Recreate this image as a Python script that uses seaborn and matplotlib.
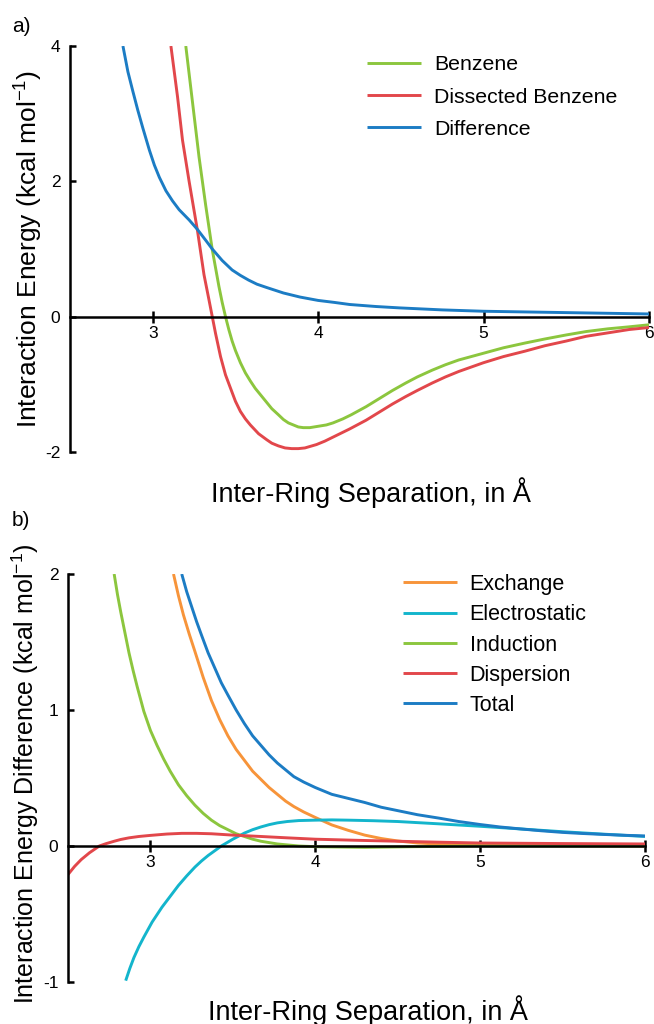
import matplotlib
matplotlib.use("Agg")
import matplotlib.pyplot as plt
import seaborn as sns

# Panel a) - interaction energies
benz_x = [3.20, 3.24, 3.28, 3.32, 3.36, 3.40, 3.42, 3.44, 3.46, 3.48, 3.50, 3.53, 3.56, 3.59, 3.62,
          3.65, 3.69, 3.72, 3.76, 3.79, 3.82, 3.85, 3.88, 3.91, 3.95, 4.00, 4.05, 4.09, 4.15, 4.20,
          4.29, 4.37, 4.45, 4.53, 4.60, 4.69, 4.77, 4.85, 5.00, 5.12, 5.25, 5.37, 5.50, 5.62, 5.75,
          5.88, 6.00]
benz_y = [4.00, 3.18, 2.36, 1.65, 0.99, 0.45, 0.21, 0.00, -0.19, -0.36, -0.50, -0.68, -0.83, -0.95, -1.06,
          -1.15, -1.27, -1.36, -1.45, -1.52, -1.57, -1.60, -1.63, -1.64, -1.64, -1.62, -1.60, -1.57, -1.51, -1.45,
          -1.33, -1.21, -1.09, -0.98, -0.89, -0.79, -0.71, -0.64, -0.54, -0.46, -0.39, -0.33, -0.27, -0.22, -0.18,
          -0.15, -0.12]

diss_x = [3.11, 3.15, 3.18, 3.22, 3.27, 3.31, 3.34, 3.36, 3.38, 3.41, 3.44, 3.48, 3.50, 3.53, 3.56,
          3.59, 3.64, 3.69, 3.72, 3.76, 3.80, 3.84, 3.88, 3.92, 3.99, 4.04, 4.09, 4.14, 4.19, 4.29,
          4.37, 4.45, 4.53, 4.60, 4.69, 4.77, 4.85, 5.00, 5.12, 5.25, 5.37, 5.50, 5.62, 5.75, 5.88,
          6.00]
diss_y = [4.00, 3.25, 2.61, 2.00, 1.28, 0.62, 0.25, 0.00, -0.25, -0.59, -0.86, -1.12, -1.25, -1.40, -1.51,
          -1.60, -1.73, -1.82, -1.87, -1.91, -1.94, -1.95, -1.95, -1.94, -1.89, -1.84, -1.78, -1.72, -1.66, -1.53,
          -1.41, -1.29, -1.18, -1.09, -0.98, -0.89, -0.81, -0.68, -0.59, -0.51, -0.43, -0.36, -0.29, -0.24, -0.19,
          -0.16]

diff_x = [2.82, 2.85, 2.88, 2.91, 2.94, 2.98, 3.01, 3.04, 3.08, 3.12, 3.16, 3.22, 3.27, 3.32, 3.36,
          3.42, 3.48, 3.53, 3.58, 3.63, 3.69, 3.79, 3.89, 4.00, 4.10, 4.19, 4.35, 4.49, 4.75, 5.00,
          5.25, 5.50, 5.75, 6.00]
diff_y = [4.00, 3.62, 3.33, 3.05, 2.79, 2.46, 2.24, 2.06, 1.86, 1.71, 1.58, 1.43, 1.29, 1.13, 1.00,
          0.83, 0.69, 0.61, 0.54, 0.48, 0.43, 0.35, 0.29, 0.24, 0.21, 0.18, 0.15, 0.13, 0.10, 0.08,
          0.07, 0.06, 0.05, 0.04]

# Panel b) - decomposition of the difference
exch_x = [3.14, 3.17, 3.20, 3.235, 3.27, 3.32, 3.37, 3.42, 3.47, 3.52, 3.57, 3.62, 3.67, 3.72, 3.77,
          3.82, 3.87, 3.93, 4.00, 4.10, 4.20, 4.30, 4.40, 4.50, 4.62, 4.80, 5.00, 5.50, 6.00]
exch_y = [2.00, 1.84, 1.70, 1.56, 1.43, 1.24, 1.07, 0.93, 0.81, 0.71, 0.63, 0.55, 0.49, 0.43, 0.38,
          0.33, 0.29, 0.25, 0.21, 0.155, 0.115, 0.08, 0.055, 0.037, 0.022, 0.011, 0.005, 0.002, 0.0]

elec_x = [2.85, 2.875, 2.90, 2.93, 2.96, 3.01, 3.07, 3.12, 3.17, 3.22, 3.27, 3.31, 3.35, 3.39, 3.43,
          3.50, 3.57, 3.62, 3.67, 3.72, 3.77, 3.83, 3.90, 4.00, 4.10, 4.20, 4.35, 4.50, 4.75, 5.00,
          5.25, 5.50, 5.75, 6.00]
elec_y = [-0.99, -0.90, -0.82, -0.74, -0.67, -0.56, -0.45, -0.37, -0.29, -0.22, -0.155, -0.11, -0.07, -0.035, 0.0,
          0.05, 0.095, 0.12, 0.14, 0.157, 0.17, 0.18, 0.187, 0.19, 0.192, 0.19, 0.186, 0.18, 0.163, 0.145,
          0.125, 0.105, 0.087, 0.07]

ind_x = [2.78, 2.80, 2.82, 2.845, 2.87, 2.895, 2.92, 2.96, 3.00, 3.04, 3.08, 3.12, 3.17, 3.22, 3.27,
         3.32, 3.37, 3.42, 3.47, 3.52, 3.57, 3.62, 3.67, 3.77, 3.90, 4.00, 4.30, 4.60, 5.00, 6.00]
ind_y = [2.00, 1.85, 1.72, 1.57, 1.42, 1.29, 1.17, 0.99, 0.85, 0.74, 0.64, 0.55, 0.45, 0.37, 0.30,
         0.24, 0.19, 0.15, 0.12, 0.09, 0.07, 0.05, 0.035, 0.015, 0.0, -0.005, -0.01, -0.005, 0.0, 0.0]

disp_x = [2.50, 2.52, 2.54, 2.56, 2.58, 2.605, 2.63, 2.66, 2.69, 2.73, 2.78, 2.82, 2.87, 2.93, 3.00,
          3.10, 3.19, 3.28, 3.37, 3.50, 3.67, 3.83, 4.00, 4.25, 4.50, 4.75, 5.00, 5.50, 6.00]
disp_y = [-0.21, -0.18, -0.15, -0.125, -0.10, -0.075, -0.05, -0.025, 0.0, 0.017, 0.035, 0.048, 0.06, 0.07, 0.078,
          0.088, 0.093, 0.093, 0.09, 0.08, 0.07, 0.06, 0.05, 0.042, 0.035, 0.028, 0.022, 0.018, 0.015]

tot_x = [3.19, 3.22, 3.25, 3.28, 3.31, 3.35, 3.39, 3.43, 3.47, 3.52, 3.57, 3.62, 3.67, 3.72, 3.77,
         3.82, 3.87, 3.93, 4.00, 4.10, 4.20, 4.30, 4.40, 4.50, 4.62, 4.75, 4.87, 5.00, 5.12, 5.25,
         5.37, 5.50, 5.62, 5.75, 5.87, 6.00]
tot_y = [2.00, 1.87, 1.76, 1.65, 1.55, 1.42, 1.31, 1.20, 1.11, 1.00, 0.90, 0.81, 0.74, 0.67, 0.61,
         0.56, 0.51, 0.47, 0.43, 0.38, 0.35, 0.32, 0.285, 0.26, 0.23, 0.205, 0.18, 0.158, 0.14, 0.125,
         0.112, 0.10, 0.092, 0.085, 0.079, 0.074]

green = "#8cc63e"
red = "#e2474b"
blue = "#1c7cc4"
orange = "#f7943a"
cyan = "#13b5cc"

sns.set_style("ticks")
plt.rcParams["font.family"] = ["Liberation Sans", "DejaVu Sans"]
plt.rcParams["mathtext.fontset"] = "custom"
plt.rcParams["mathtext.rm"] = "Liberation Sans"
for key in ("text.color", "axes.labelcolor", "xtick.color", "ytick.color"):
    plt.rcParams[key] = "black"

fig = plt.figure(figsize=(6.54, 10.24), dpi=100)
ax1 = fig.add_axes([70 / 654, 1 - 452 / 1024, 579 / 654, 406 / 1024])
ax2 = fig.add_axes([68 / 654, 1 - 982 / 1024, 577 / 654, 408 / 1024])

lw = 2.1
kw = dict(lw=lw, sort=False, solid_joinstyle="round", solid_capstyle="butt")
sns.lineplot(x=benz_x, y=benz_y, ax=ax1, color=green, label="Benzene", **kw)
sns.lineplot(x=diss_x, y=diss_y, ax=ax1, color=red, label="Dissected Benzene", **kw)
sns.lineplot(x=diff_x, y=diff_y, ax=ax1, color=blue, label="Difference", **kw)

sns.lineplot(x=exch_x, y=exch_y, ax=ax2, color=orange, label="Exchange", **kw)
sns.lineplot(x=elec_x, y=elec_y, ax=ax2, color=cyan, label="Electrostatic", **kw)
sns.lineplot(x=ind_x, y=ind_y, ax=ax2, color=green, label="Induction", **kw)
sns.lineplot(x=disp_x, y=disp_y, ax=ax2, color=red, label="Dispersion", **kw)
sns.lineplot(x=tot_x, y=tot_y, ax=ax2, color=blue, label="Total", **kw)

for ax, ylim, yticks in [(ax1, (-2, 4), [-2, 0, 2, 4]), (ax2, (-1, 2), [-1, 0, 1, 2])]:
    ax.set_xlim(2.5, 6)
    ax.set_ylim(*ylim)
    ax.set_xticks([3, 4, 5, 6])
    ax.set_yticks(yticks)
    ax.set_xticklabels(["3", "4", "5", "6"])
    ax.set_yticklabels([str(t) for t in yticks])
    sns.despine(ax=ax)
    ax.spines["bottom"].set_position(("data", 0))
    for s in ("bottom", "left"):
        ax.spines[s].set_linewidth(1.8)
        ax.spines[s].set_color("black")
    ax.tick_params(axis="x", direction="inout", length=9, width=1.8, labelsize=12.5, pad=2)
    ax.tick_params(axis="y", direction="in", length=4, width=1.8, labelsize=12.5, pad=7)
    ax.set_xlabel("Inter-Ring Separation, in Å", fontsize=19.5)

ax1.set_ylabel("Interaction Energy (kcal mol$^{\\mathregular{-1}}$)", fontsize=19)
ax2.set_ylabel("Interaction Energy Difference (kcal mol$^{\\mathregular{-1}}$)", fontsize=18)
ax1.yaxis.set_label_coords(-0.045, 0.5)
ax2.yaxis.set_label_coords(-0.047, 0.51)
ax1.xaxis.set_label_coords(0.52, -0.063)
ax2.xaxis.set_label_coords(0.52, -0.032)

ax1.legend(loc="upper left", bbox_to_anchor=((367 - 70) / 579, 0.977), frameon=False, fontsize=15.3,
           handlelength=2.55, handletextpad=0.6, labelspacing=0.62, borderpad=0, borderaxespad=0)
ax2.legend(loc="upper left", bbox_to_anchor=((403 - 68) / 577, 1.0), frameon=False, fontsize=15.5,
           handlelength=2.5, handletextpad=0.6, labelspacing=0.43, borderpad=0, borderaxespad=0)

fig.text(12 / 654, 1 - 26 / 1024, "a)", fontsize=15, va="center", ha="left")
fig.text(12 / 654, 1 - 521 / 1024, "b)", fontsize=15, va="center", ha="left")

fig.savefig("out.png", dpi=100)
